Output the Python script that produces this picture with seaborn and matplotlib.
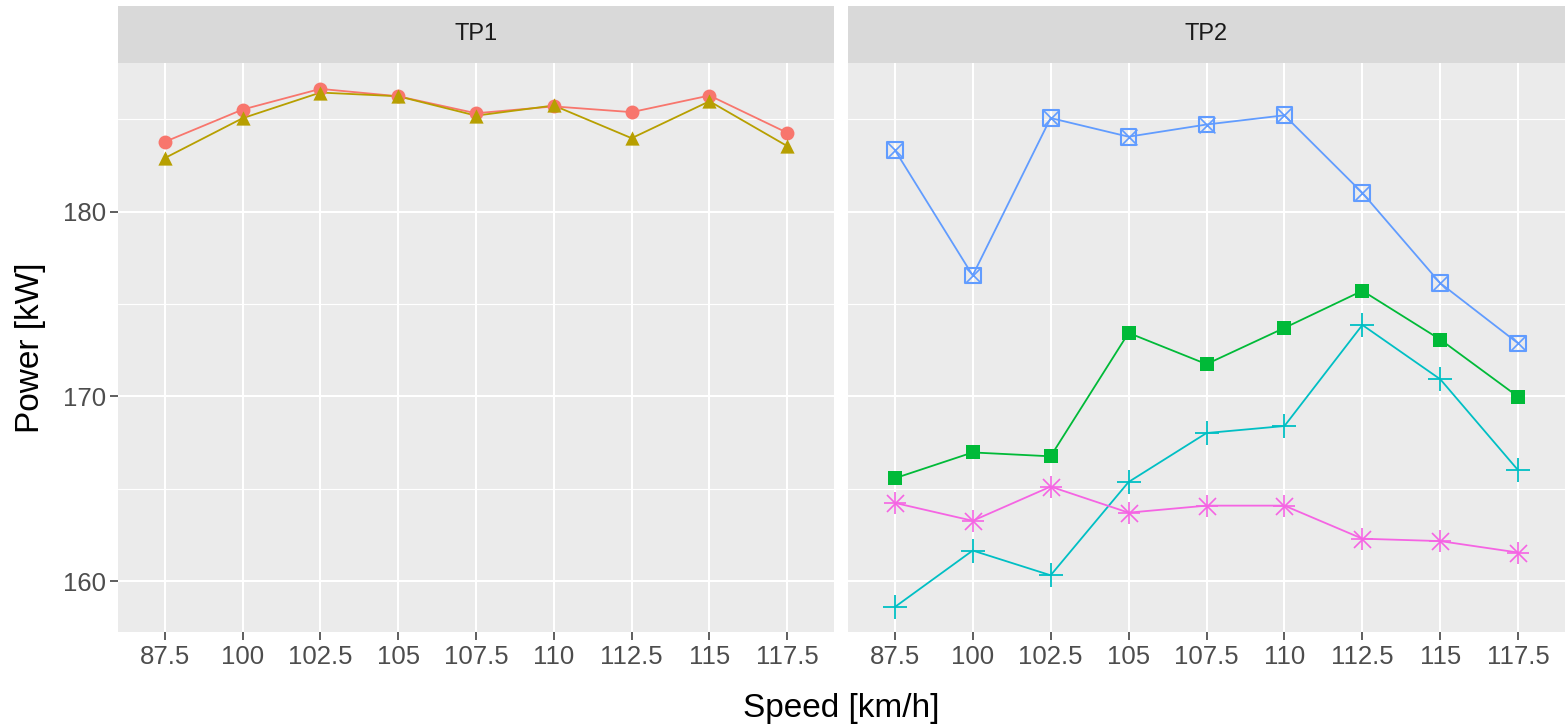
import numpy as np
import pandas as pd
import matplotlib
matplotlib.use("Agg")
import matplotlib.pyplot as plt
import seaborn as sns

# ---------------- data ----------------
speeds = ["87.5", "100", "102.5", "105", "107.5", "110", "112.5", "115", "117.5"]

tp1_circle   = [183.78, 185.53, 186.65, 186.25, 185.33, 185.70, 185.39, 186.29, 184.27]
tp1_triangle = [182.90, 185.06, 186.45, 186.25, 185.20, 185.75, 183.98, 185.98, 183.55]
tp2_square   = [165.57, 166.97, 166.76, 173.44, 171.75, 173.71, 175.72, 173.08, 169.98]
tp2_plus     = [158.60, 161.66, 160.32, 165.37, 168.02, 168.40, 173.87, 170.93, 166.00]
tp2_squarex  = [183.35, 176.55, 185.07, 184.06, 184.72, 185.22, 181.02, 176.13, 172.87]
tp2_asterisk = [164.24, 163.27, 165.12, 163.71, 164.09, 164.09, 162.30, 162.17, 161.55]

series_names  = ["S1", "S2", "S3", "S4", "S5", "S6"]
series_panels = ["TP1", "TP1", "TP2", "TP2", "TP2", "TP2"]
series_values = [tp1_circle, tp1_triangle, tp2_square, tp2_plus, tp2_squarex, tp2_asterisk]
series_colors = ["#F8766D", "#B79F00", "#00BA38", "#00BFC4", "#619CFF", "#F564E3"]
panel_names = ["TP1", "TP2"]

rows = []
for name, panel, vals in zip(series_names, series_panels, series_values):
    for sp, v in zip(speeds, vals):
        rows.append({"series": name, "panel": panel, "speed": sp, "power": v})
df = pd.DataFrame(rows)
df["pos"] = df["speed"].map({s: i for i, s in enumerate(speeds)})
palette = dict(zip(series_names, series_colors))

# marker specs per series: list of (marker, size, kind, linewidth)
# kind: "fill" filled marker, "open" open outline, "line" line-art marker
marker_specs = {
    "S1": [("o", 100, "fill", 0)],
    "S2": [("^", 105, "fill", 0)],
    "S3": [("s", 95, "fill", 0)],
    "S4": [("+", 300, "line", 1.3)],
    "S5": [("s", 130, "open", 1.5), ("x", 130, "line", 1.2)],
    "S6": [("+", 260, "line", 1.2), ("x", 150, "line", 1.2)],
}

# ---------------- style ----------------
sns.set_theme(style="darkgrid")
plt.rcParams["font.family"] = ["Liberation Sans", "DejaVu Sans"]

W, H = 1568, 727
fig = plt.figure(figsize=(W / 100, H / 100), dpi=100)
fig.patch.set_facecolor("white")

panel_px = {"TP1": (118, 834), "TP2": (848, 1565)}
ptop, pbot = 63, 632
strip_top = 6

ymin, ymax = 157.25, 188.05
for i, pname in enumerate(panel_names):
    x0, x1 = panel_px[pname]
    ax = fig.add_axes([x0 / W, (H - pbot) / H, (x1 - x0) / W, (pbot - ptop) / H])
    ax.set_facecolor("#EBEBEB")
    sub = df[df["panel"] == pname]

    sns.lineplot(data=sub, x="pos", y="power", hue="series", palette=palette,
                 estimator=None, sort=True, legend=False, linewidth=1.3, ax=ax,
                 zorder=3)
    for sname in sub["series"].unique():
        ss = sub[sub["series"] == sname]
        c = palette[sname]
        for (m, s, kind, lw) in marker_specs[sname]:
            if kind == "fill":
                sns.scatterplot(data=ss, x="pos", y="power", marker=m, s=s,
                                color=c, edgecolor=c, linewidth=0, ax=ax,
                                legend=False, zorder=4)
            elif kind == "open":
                sns.scatterplot(data=ss, x="pos", y="power", marker=m, s=s,
                                color=c, facecolors="none", edgecolor=c,
                                linewidth=lw, ax=ax, legend=False, zorder=4)
            else:
                sns.scatterplot(data=ss, x="pos", y="power", marker=m, s=s,
                                color=c, linewidth=lw, ax=ax, legend=False,
                                zorder=5)

    ax.set_xlim(-0.6, len(speeds) - 1 + 0.6)
    ax.set_ylim(ymin, ymax)
    ax.set_xticks(range(len(speeds)))
    ax.set_xticklabels(speeds)
    ax.set_yticks([160, 170, 180])
    ax.set_yticks([165, 175, 185], minor=True)
    ax.grid(which="major", color="white", linewidth=1.5)
    ax.grid(which="minor", axis="y", color="white", linewidth=0.8)
    ax.set_axisbelow(True)
    for sp in ax.spines.values():
        sp.set_visible(False)
    ax.set_xlabel("")
    ax.set_ylabel("")
    ax.tick_params(axis="x", which="major", bottom=True, length=5.5, width=1.1,
                   color="#333333", labelsize=18.5, labelcolor="#4D4D4D", pad=4)
    ax.tick_params(axis="y", which="minor", left=False, length=0)
    if i == 0:
        ax.tick_params(axis="y", which="major", left=True, length=5.5, width=1.1,
                       color="#333333", labelsize=18.5, labelcolor="#4D4D4D", pad=3)
    else:
        ax.tick_params(axis="y", which="major", left=False, labelleft=False)

    # strip
    sax = fig.add_axes([x0 / W, (H - ptop) / H, (x1 - x0) / W, (ptop - strip_top) / H])
    sax.set_facecolor("#D9D9D9")
    sax.set_xticks([])
    sax.set_yticks([])
    for sp in sax.spines.values():
        sp.set_visible(False)
    sax.grid(False)
    sax.text(0.5, 0.5, pname, ha="center", va="center", fontsize=17,
             color="#1A1A1A", transform=sax.transAxes)

fig.text(841.5 / W, 1 - 708 / H, "Speed [km/h]", ha="center", va="center",
         fontsize=24, color="black")
fig.text(31 / W, 1 - 347.5 / H, "Power [kW]", ha="center", va="center",
         rotation=90, fontsize=24, color="black")

fig.savefig("out.png", dpi=100, facecolor="white")
